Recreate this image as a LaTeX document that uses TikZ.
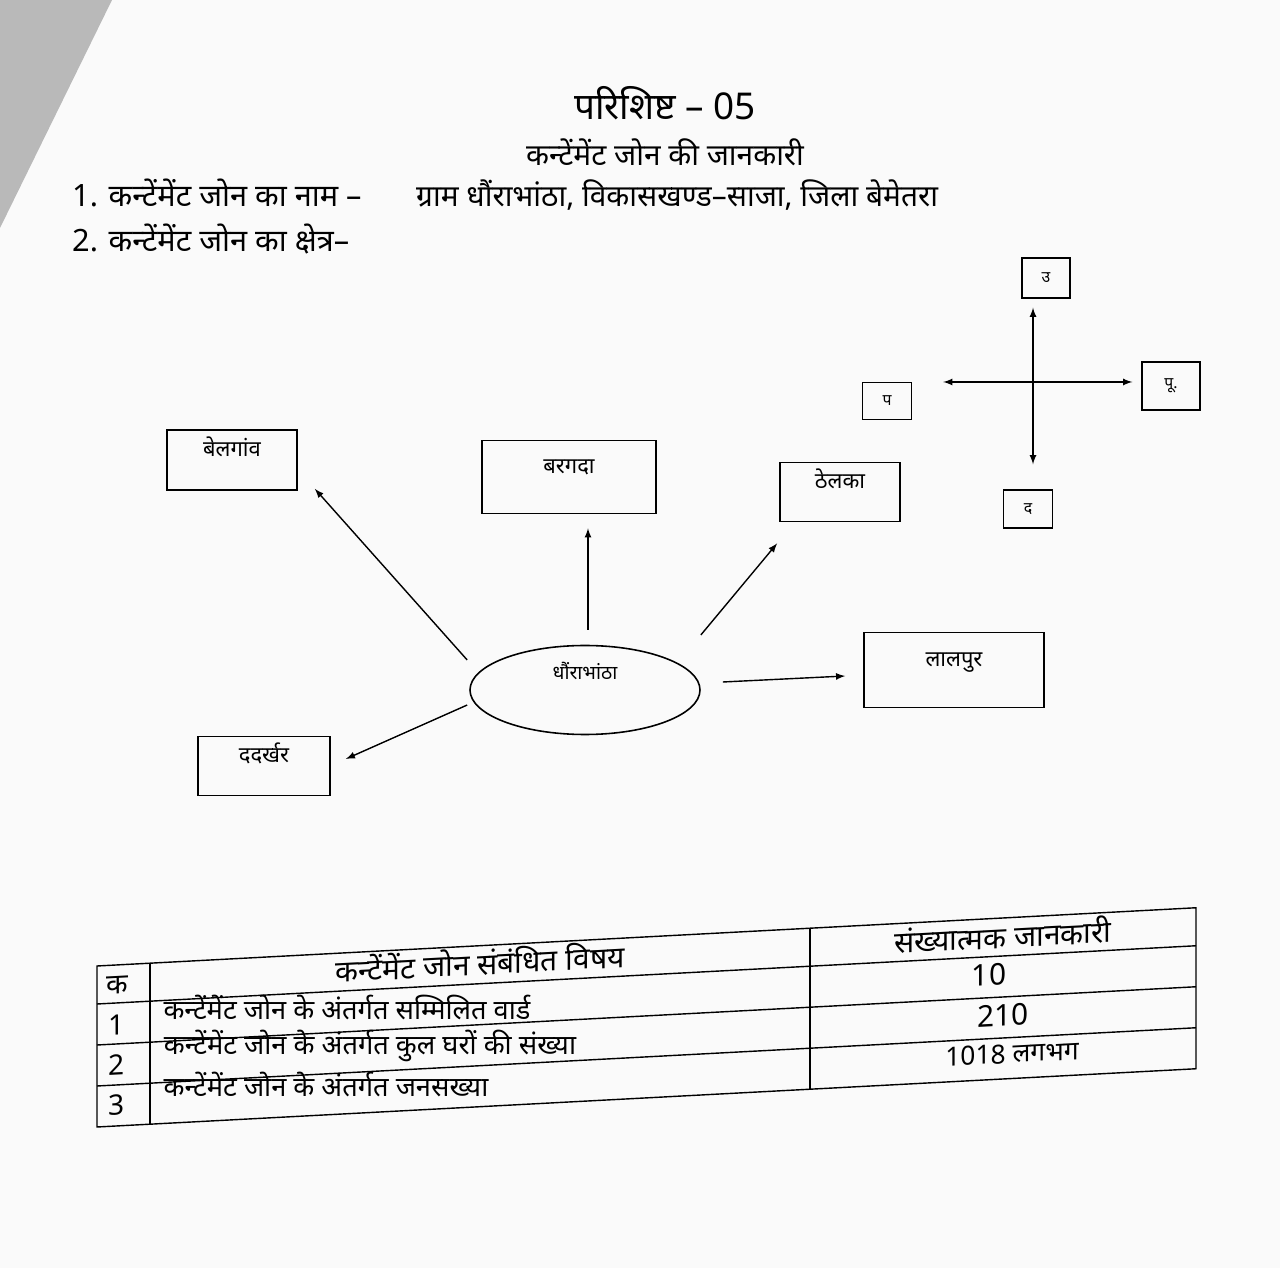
\documentclass[tikz,border=0pt]{standalone}
\usepackage{fontspec}
\setmainfont[Script=Devanagari]{Noto Sans}
\usetikzlibrary{calc,shapes.geometric,positioning}

\begin{document}
\begin{tikzpicture}[x=0.2mm,y=-0.2mm,
  every node/.style={font=\fontsize{12.5}{15}\selectfont},
  placebox/.style={draw,line width=0.9pt,inner sep=0pt,text height=3.5mm,text depth=5mm},
  dirbox/.style={draw,line width=0.8pt,inner sep=0pt,font=\fontsize{9}{11}\selectfont},
  tabtext/.style={inner sep=0pt,font=\fontsize{16}{19}\selectfont},
  tabslant/.style={tabtext,transform shape},
  arr/.style={-latex,line width=0.8pt}]
 \useasboundingbox (0,0) rectangle (1280,1268);
 \fill [gray!4] (0,0) rectangle (1280,1268);
 \fill [gray!55] (0,0) -- (112,0) -- (0,228) -- cycle;
 % heading
 \node [font=\fontsize{21}{25}\selectfont] (title) at (665,103) {परिशिष्ट – 05};
 \node [font=\fontsize{17}{20}\selectfont] (subtitle) at (665,152) {कन्टेंमेंट जोन की जानकारी};
 \node [font=\fontsize{17.5}{21}\selectfont,anchor=base west] (itemone) at (66,207) {1. कन्टेंमेंट जोन का नाम –};
 \node [font=\fontsize{17}{21}\selectfont,anchor=base west] (itemonetext) at (410,207) {ग्राम धौंराभांठा, विकासखण्ड–साजा, जिला बेमेतरा};
 \node [font=\fontsize{17.5}{21}\selectfont,anchor=base west] (itemtwo) at (66,252) {2. कन्टेंमेंट जोन का क्षेत्र–};
 % direction cross
 \node [dirbox,minimum width=9.6mm,minimum height=8mm] (north) at (1046,278) {उ};
 \node [dirbox,minimum width=9.8mm,minimum height=7.4mm] (west) at (887,401) {प};
 \node [dirbox,minimum width=11.6mm,minimum height=9.6mm] (east) at (1171,386) {पू.};
 \node [dirbox,minimum width=9.8mm,minimum height=7.6mm] (south) at (1028,509) {द};
 \coordinate (cross) at (1033,382);
 \draw [arr,shorten >=1.8mm] (cross) -- (cross |- north.south);
 \draw [arr,shorten >=5mm] (cross) -- (cross |- south.north);
 \draw [arr,shorten >=6.2mm] (cross) -- (west.east |- cross);
 \draw [arr,shorten >=1.8mm] (cross) -- (east.west |- cross);
 % villages round the zone
 \node [draw,ellipse,line width=0.9pt,inner sep=0pt,minimum width=46mm,minimum height=17.8mm,
  font=\fontsize{11}{13}\selectfont,text height=3mm,text depth=7mm] (dhaura) at (585,690) {धौंराभांठा};
 \node [placebox,minimum width=26mm,minimum height=12mm] (belgaon) at (232,460) {बेलगांव};
 \node [placebox,minimum width=34.8mm,minimum height=14.6mm] (bargada) at (569,477) {बरगदा};
 \node [placebox,minimum width=24mm,minimum height=11.8mm] (thelka) at (840,492) {ठेलका};
 \node [placebox,minimum width=36mm,minimum height=15mm] (lalpur) at (954,670) {लालपुर};
 \node [placebox,minimum width=26.4mm,minimum height=11.8mm] (dadarkhar) at (264,766) {ददर्खर};
 \draw [arr] ($(dhaura.west)+(-2,-30)$) -- ($(belgaon.south east)+(17,-2)$);
 \draw [arr] ($(dhaura.north)+(3,-15)$) -- ($(bargada.south)+(19,14)$);
 \draw [arr] ($(dhaura.east)+(0,-55)$) -- ($(thelka.south west)+(-2,21)$);
 \draw [arr] ($(dhaura.east)+(22,-8)$) -- ($(lalpur.west)+(-18,6)$);
 \draw [arr] ($(dhaura.west)+(-2,15)$) -- ($(dadarkhar.east)+(15,-7)$);
 % table
 \begin{scope}[shift={(97,966)},yslant=0.053,line width=0.8pt]
  \draw (0,0) rectangle (1099,161);
  \foreach \r in {38,79,120}
   \draw (0,\r) -- (1099,\r);
  \draw (53,0) -- (53,161);
  \draw (713,0) -- (713,161);
  \node [tabslant] (hka) at (20,20) {क};
  \node [tabslant,font=\fontsize{17}{20}\selectfont] (hsubject) at (383,16) {कन्टेंमेंट जोन संबंधित विषय};
  \node [tabslant,font=\fontsize{17}{20}\selectfont] (hvalue) at (906,17) {संख्यात्मक जानकारी};
  \node [tabslant] (numone) at (20,60) {1};
  \node [tabslant] (numtwo) at (20,100) {2};
  \node [tabslant] (numthree) at (20,140) {3};
  \node [tabtext,font=\fontsize{15.5}{18}\selectfont] (rowone) at (250,55) {कन्टेंमेंट जोन के अंतर्गत सम्मिलित वार्ड};
  \node [tabtext,font=\fontsize{15.5}{18}\selectfont] (rowtwo) at (273,94) {कन्टेंमेंट जोन के अंतर्गत कुल घरों की संख्या};
  \node [tabtext,font=\fontsize{15.5}{18}\selectfont] (rowthree) at (229,131) {कन्टेंमेंट जोन के अंतर्गत जनसख्या};
  \node [tabslant,font=\fontsize{17}{20}\selectfont] (valone) at (892,56) {10};
  \node [tabslant,font=\fontsize{17}{20}\selectfont] (valtwo) at (906,97) {210};
  \node [tabslant,font=\fontsize{15}{18}\selectfont] (valthree) at (915,136) {1018 लगभग};
 \end{scope}
\end{tikzpicture}
\end{document}
